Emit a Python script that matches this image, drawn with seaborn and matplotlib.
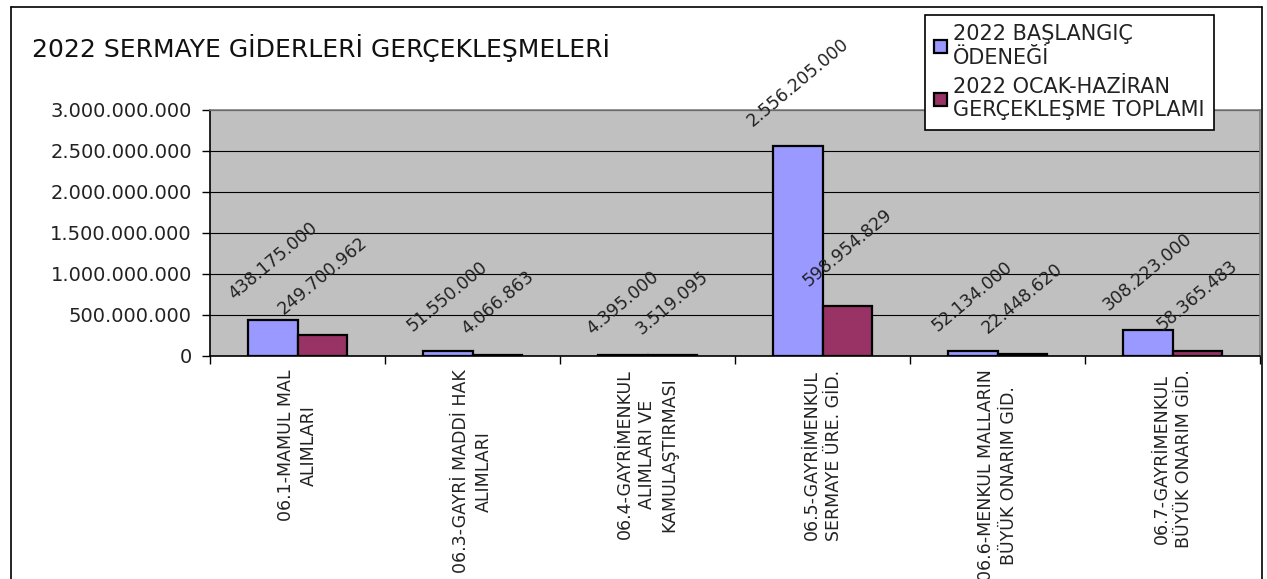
import pandas as pd
import matplotlib.pyplot as plt
import seaborn as sns
from matplotlib.lines import Line2D

# -----------------------------
# DATA
# -----------------------------
categories = [
    "06.1-MAMUL MAL\nALIMLARI",
    "06.3-GAYRİ MADDİ HAK\nALIMLARI",
    "06.4-GAYRİMENKUL\nALIMLARI VE\nKAMULAŞTIRMASI",
    "06.5-GAYRİMENKUL\nSERMAYE ÜRE. GİD.",
    "06.6-MENKUL MALLARIN\nBÜYÜK ONARIM GİD.",
    "06.7-GAYRİMENKUL\nBÜYÜK ONARIM GİD.",
]
series_names = ["2022 BAŞLANGIÇ\nÖDENEĞİ", "2022 OCAK-HAZİRAN\nGERÇEKLEŞME TOPLAMI"]
baslangic = [438175000, 51550000, 4395000, 2556205000, 52134000, 308223000]
gerceklesme = [249700962, 4066863, 3519095, 598954829, 22448620, 58365483]
y_ticks = [0, 500000000, 1000000000, 1500000000, 2000000000, 2500000000, 3000000000]
colors = ["#9999FF", "#993366"]

df = pd.DataFrame({
    "kategori": categories * 2,
    "seri": [series_names[0]] * len(categories) + [series_names[1]] * len(categories),
    "deger": baslangic + gerceklesme,
})


def fmt(v):
    return f"{int(v):,}".replace(",", ".")


# -----------------------------
# SETUP
# -----------------------------
sns.set_theme(style="ticks")
plt.rcParams["font.family"] = ["DejaVu Sans"]

W, H = 1267, 579
fig = plt.figure(figsize=(W / 100, H / 100), dpi=100)
ax = fig.add_axes([210 / W, 1 - 355.5 / H, 1050 / W, 245.5 / H])

sns.barplot(data=df, x="kategori", y="deger", hue="seri", palette=colors,
            saturation=1, width=0.57, edgecolor="black", linewidth=1.6,
            ax=ax, errorbar=None)

ax.set_facecolor("#C0C0C0")
ax.set_xlim(-0.5, 5.5)
ax.set_ylim(0, 3000000000)
ax.set_yticks(y_ticks)
ax.set_yticklabels([fmt(v) for v in y_ticks], fontsize=14, color="#222222")
ax.yaxis.grid(True, color="black", linewidth=0.8)
ax.set_axisbelow(True)
ax.set_xlabel("")
ax.set_ylabel("")

ax.set_xticks(range(len(categories)))
ax.set_xticklabels(categories, rotation=90, ha="center", va="top",
                   multialignment="center", fontsize=12.5, linespacing=1.3,
                   color="#222222")
ax.tick_params(axis="x", which="major", length=0, pad=10)
ax.set_xticks([i + 0.5 for i in range(-1, len(categories))], minor=True)
ax.tick_params(axis="x", which="minor", length=6, width=1, color="black")
ax.tick_params(axis="y", length=6, width=1, color="black", pad=7)

for side in ["left", "bottom"]:
    ax.spines[side].set_color("black")
    ax.spines[side].set_linewidth(1.2)
for side in ["top", "right"]:
    ax.spines[side].set_visible(True)
    ax.spines[side].set_color("#808080")
    ax.spines[side].set_linewidth(1.2)

# data labels
for cont, vals in zip(ax.containers, [baslangic, gerceklesme]):
    ax.bar_label(cont, labels=[fmt(v) for v in vals], padding=12,
                 rotation=40, fontsize=12.5, color="#222222")

# legend
sns.move_legend(ax, loc="upper left", bbox_to_anchor=(925 / W, 1 - 15 / H),
                bbox_transform=fig.transFigure, title=None, frameon=True,
                fancybox=False, fontsize=15, handlelength=0.6,
                handleheight=0.6, handletextpad=0.3, labelspacing=0.45,
                borderpad=0.45, borderaxespad=0)
leg = ax.get_legend()
leg.get_frame().set_edgecolor("black")
leg.get_frame().set_linewidth(1.2)
leg.get_frame().set_alpha(1)
for t in leg.get_texts():
    t.set_color("#222222")

# title
fig.text(32 / W, 1 - 48 / H, "2022 SERMAYE GİDERLERİ GERÇEKLEŞMELERİ",
         ha="left", va="center", fontsize=18, color="#111111")

# outer border of the chart
x0, x1, y0 = 10.5 / W, 1262 / W, 1 - 7 / H
for xs, ys in [([x0, x0], [-0.1, y0]), ([x0, x1], [y0, y0]), ([x1, x1], [y0, -0.1])]:
    fig.add_artist(Line2D(xs, ys, transform=fig.transFigure, color="black", linewidth=1.2))

plt.savefig("out.png", dpi=100)
plt.close()
